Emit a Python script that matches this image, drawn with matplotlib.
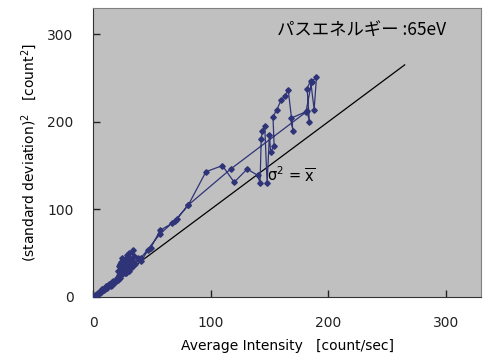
import matplotlib
matplotlib.use('Agg')
import matplotlib.pyplot as plt
import numpy as np

plt.rcParams['font.family'] = ['DejaVu Sans', 'Noto Sans CJK JP']

# Measured points (average intensity, variance), in scan order
intensity = [0, 1, 2, 3, 4, 5, 6, 7, 8, 9, 10, 11, 12, 13, 14, 15, 16, 17, 18, 19,
             20, 21, 22, 21, 23, 22, 24, 23, 25, 24, 26, 25, 27, 26, 28, 27, 29, 28,
             30, 29, 31, 30, 32, 31, 33, 34, 35, 36, 38, 41, 47, 49, 57, 67, 70, 81,
             96, 110, 120, 131, 140, 142, 143, 144, 146, 148, 150, 151, 154, 153, 156,
             160, 163, 166, 170, 168, 182, 184, 182, 185, 188, 190, 186, 181, 117,
             81, 71, 57, 41, 33, 28, 24, 20, 16, 12, 8, 4, 0]
variance = [0, 1, 2, 3, 3, 6, 5, 6, 9, 8, 9, 12, 10, 12, 15, 13, 14, 18, 16, 17,
            22, 19, 25, 30, 22, 35, 28, 38, 26, 40, 33, 44, 30, 42, 36, 27, 45, 33,
            38, 48, 30, 43, 36, 50, 42, 54, 47, 38, 44, 41, 54, 56, 76, 84, 87, 105,
            143, 150, 131, 146, 139, 130, 180, 190, 195, 130, 185, 166, 172, 206, 213,
            225, 229, 236, 190, 204, 212, 200, 238, 247, 214, 251, 246, 211, 146,
            105, 89, 72, 45, 34, 27, 25, 19, 17, 12, 9, 4, 0]

line_end = 265
xticks = [0, 100, 200, 300]
yticks = [0, 100, 200, 300]

fig = plt.figure(figsize=(4.87, 3.6), dpi=100)
ax = fig.add_axes([0.191, 0.175, 0.797, 0.803])
ax.set_facecolor('#c0c0c0')

ax.plot(intensity, variance, color='#2f3478', lw=0.9, marker='D', ms=2.8, zorder=3)
ax.plot([0, line_end], [0, line_end], color='black', lw=0.9, zorder=2)

ax.set_xlim(0, 330)
ax.set_ylim(0, 330)
ax.set_xticks(xticks)
ax.set_yticks(yticks)
ax.tick_params(direction='in', length=5, width=1, pad=14, labelsize=10, colors='#222222')

for s in ['top', 'right']:
    ax.spines[s].set_color('#808080')
for s in ['left', 'bottom']:
    ax.spines[s].set_color('#333333')

ax.text(228, 305, 'パスエネルギー :65eV', ha='center', va='center', fontsize=12.5,
        family=['Noto Sans CJK JP', 'DejaVu Sans'])
ax.text(148, 139, r'σ$^2$ = $\overline{\rm x}$', ha='left', va='center', fontsize=10.5)

ax.set_xlabel('Average Intensity   [count/sec]', fontsize=10, labelpad=6)
ax.set_ylabel('(standard deviation)$^2$   [count$^2$]', fontsize=10, labelpad=6)

plt.savefig('out.png', dpi=100)
